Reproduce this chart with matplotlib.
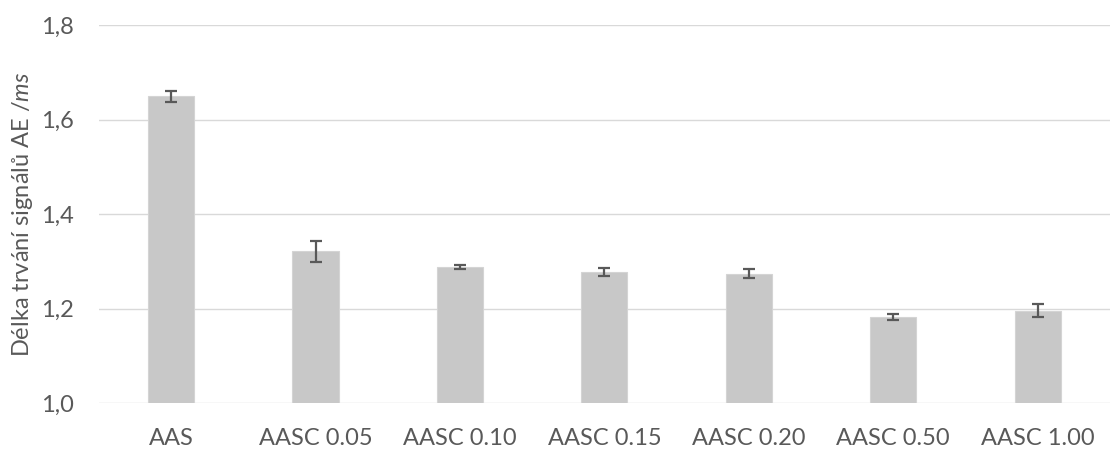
import matplotlib
matplotlib.use("Agg")
import matplotlib.pyplot as plt
import numpy as np

categories = ["AAS", "AASC 0.05", "AASC 0.10", "AASC 0.15", "AASC 0.20", "AASC 0.50", "AASC 1.00"]
values = [1.649, 1.321, 1.288, 1.277, 1.274, 1.182, 1.195]
errors = [0.012, 0.022, 0.005, 0.008, 0.010, 0.006, 0.014]
yticks = [1.0, 1.2, 1.4, 1.6, 1.8]

plt.rcParams["font.family"] = ["Lato", "DejaVu Sans"]
plt.rcParams["mathtext.fontset"] = "custom"
plt.rcParams["mathtext.it"] = "Lato:italic"
plt.rcParams["mathtext.rm"] = "Lato"

TXT = "#595959"
FS = 17

fig = plt.figure(figsize=(11.11, 4.49), dpi=100)
ax = fig.add_axes([0.089, 0.1024, 0.91, 0.8419])

x = np.arange(len(categories))
ax.bar(x, values, width=0.32, color="#c8c8c8", edgecolor="#d4d4d4", linewidth=0.8, zorder=2)
ax.errorbar(x, values, yerr=errors, fmt="none", ecolor="#595959", elinewidth=1.6,
            capsize=4, capthick=1.6, zorder=3)

ax.set_xlim(-0.5, len(categories) - 0.5)
ax.set_ylim(1.0, 1.8)
ax.set_yticks(yticks)
ax.set_yticklabels([f"{v:.1f}".replace(".", ",") for v in yticks])
ax.set_xticks(x)
ax.set_xticklabels(categories)

ax.grid(axis="y", color="#d9d9d9", linewidth=1.0, zorder=0)
ax.set_axisbelow(True)
for s in ax.spines.values():
    s.set_visible(False)
ax.tick_params(axis="both", length=0, labelsize=FS, colors=TXT)
ax.tick_params(axis="x", pad=18)
ax.tick_params(axis="y", pad=18)

ax.set_ylabel(r"Délka trvání signálů AE /$\mathit{ms}$", fontsize=FS, color=TXT, labelpad=4)

fig.savefig("out.png", dpi=100)
